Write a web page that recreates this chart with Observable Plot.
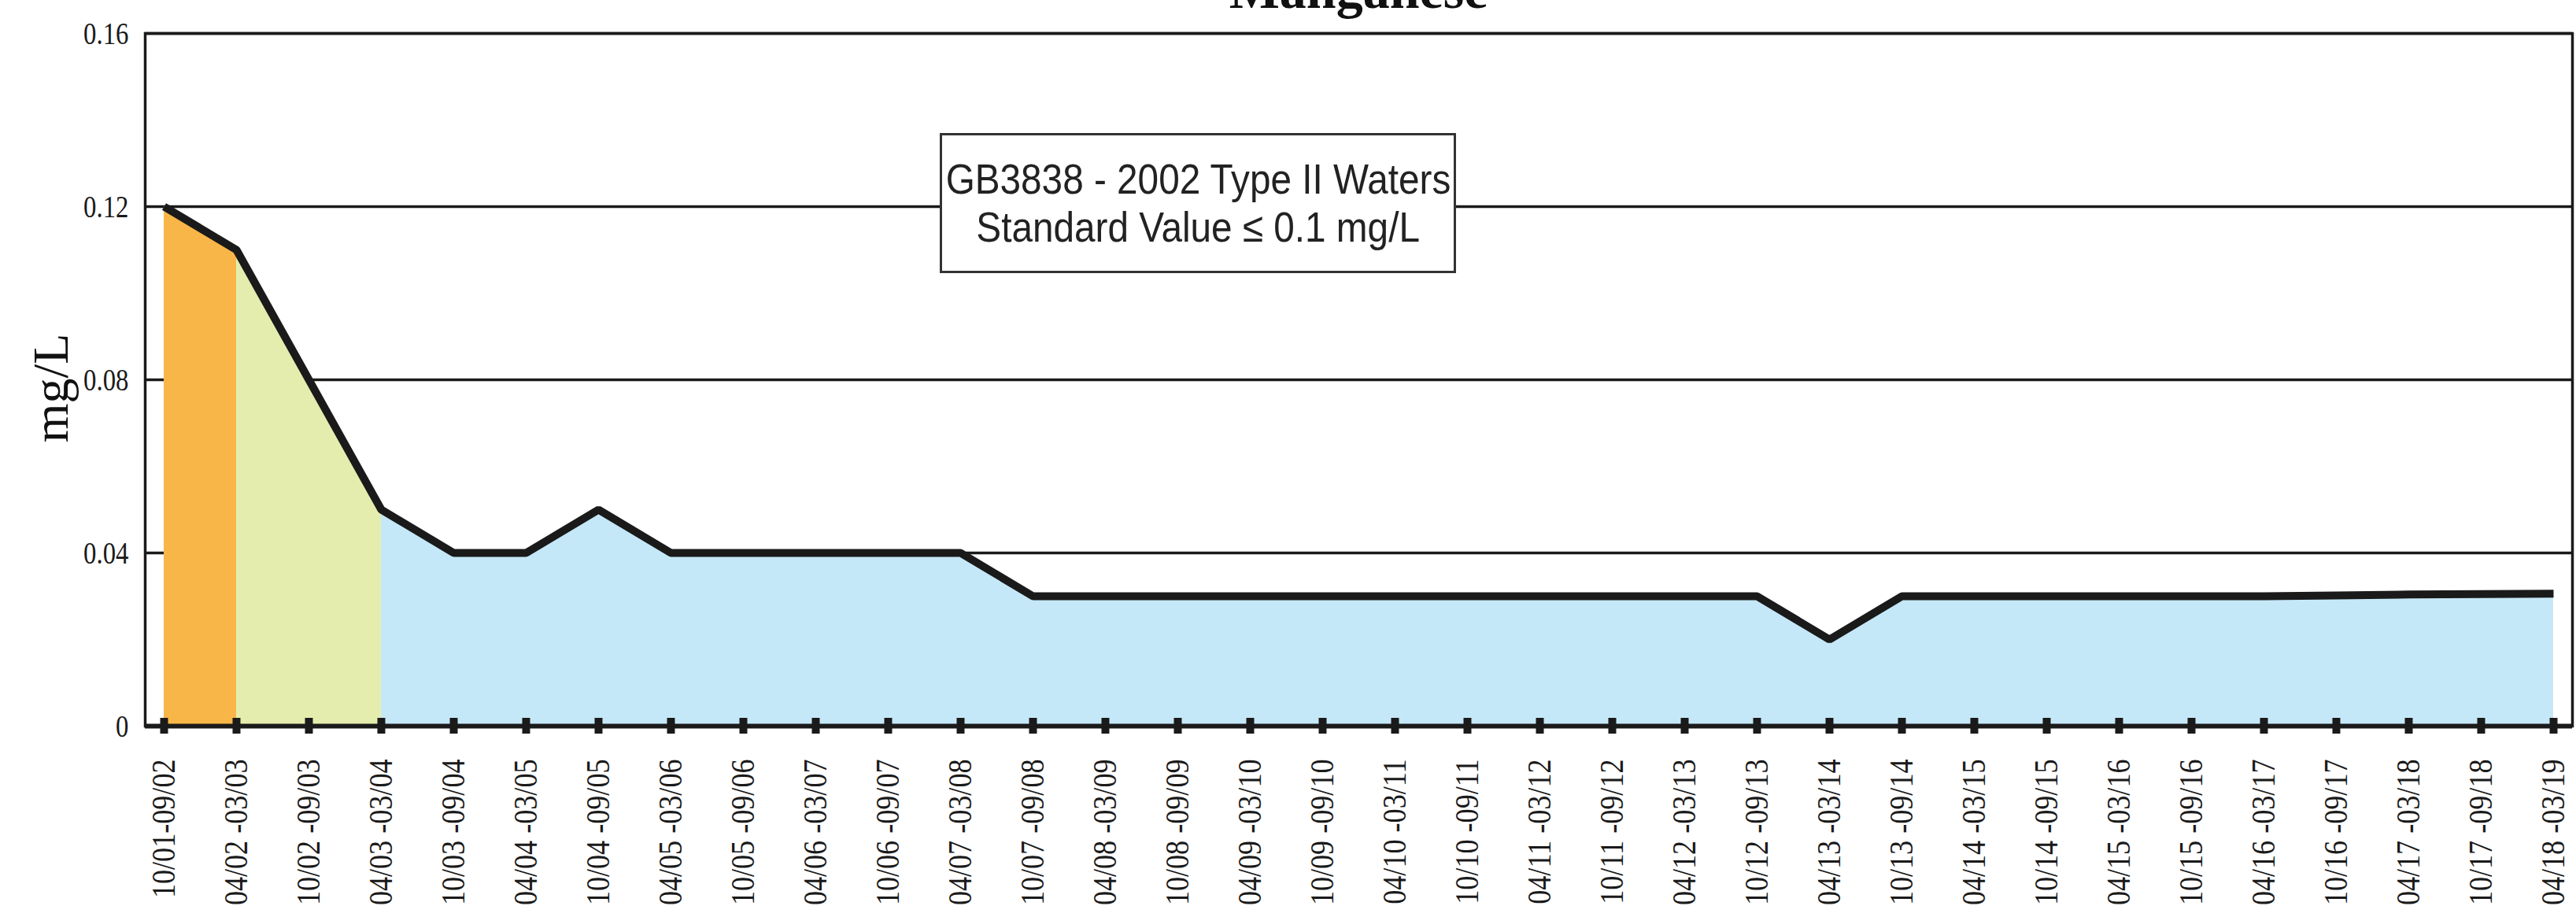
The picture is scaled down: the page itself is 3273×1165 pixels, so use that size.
<!DOCTYPE html>
<html>
<head>
<meta charset="utf-8">
<script src="https://cdn.jsdelivr.net/npm/d3@7"></script>
<script src="https://cdn.jsdelivr.net/npm/@observablehq/plot@0.6"></script>
<style>
  html, body { margin: 0; padding: 0; background: #fff; overflow: hidden; }
  #wrap { position: relative; width: 3273px; height: 1165px; overflow: hidden; }
  #title { position: absolute; left: 184px; width: 3084px; top: -47px; text-align: center;
           font: bold 68px/68px "Liberation Serif", "Times New Roman", serif; color: #111; }
  #ylabel { position: absolute; left: 65px; top: 493px; transform: translate(-50%, -50%) rotate(-90deg);
            font: 64px/64px "Liberation Serif", "Times New Roman", serif; color: #111; white-space: nowrap; }
  #legend { position: absolute; left: 1194px; top: 169px; width: 656px; height: 178px; box-sizing: border-box;
            border: 3px solid #333; background: #fff; display: flex; flex-direction: column;
            justify-content: center; align-items: center;
            font-family: "Liberation Sans", Arial, sans-serif; font-size: 53px; line-height: 61px; color: #222; }
  #legend span { display: block; transform: scaleX(0.9); white-space: nowrap; }
</style>
</head>
<body>
<div id="wrap">
  <div id="title">Manganese</div>
  <div id="ylabel">mg/L</div>
</div>
<script>
const periods = [
  "10/01-09/02", "04/02 -03/03", "10/02 -09/03", "04/03 -03/04", "10/03 -09/04",
  "04/04 -03/05", "10/04 -09/05", "04/05 -03/06", "10/05 -09/06", "04/06 -03/07",
  "10/06 -09/07", "04/07 -03/08", "10/07 -09/08", "04/08 -03/09", "10/08 -09/09",
  "04/09 -03/10", "10/09 -09/10", "04/10 -03/11", "10/10 -09/11", "04/11 -03/12",
  "10/11 -09/12", "04/12 -03/13", "10/12 -09/13", "04/13 -03/14", "10/13 -09/14",
  "04/14 -03/15", "10/14 -09/15", "04/15 -03/16", "10/15 -09/16", "04/16 -03/17",
  "10/16 -09/17", "04/17 -03/18", "10/17 -09/18", "04/18 -03/19"
];
const manganese = [
  0.12, 0.11, 0.08, 0.05, 0.04,
  0.04, 0.05, 0.04, 0.04, 0.04,
  0.04, 0.04, 0.03, 0.03, 0.03,
  0.03, 0.03, 0.03, 0.03, 0.03,
  0.03, 0.03, 0.03, 0.02, 0.03,
  0.03, 0.03, 0.03, 0.03, 0.03,
  0.0302, 0.0304, 0.0305, 0.0306
];
const zoneStart = [0, 1, 3];
const zoneEnd = [1, 3, 33];
const zoneFill = ["#F9B648", "#E5EDAE", "#C5E8F8"];
const yTicks = [0, 0.04, 0.08, 0.12, 0.16];
const legendLines = ["GB3838 - 2002 Type II Waters", "Standard Value \u2264 0.1 mg/L"];

const rows = periods.map((p, i) => ({period: p, value: manganese[i]}));
const zones = zoneStart.map((s, k) => rows.slice(s, zoneEnd[k] + 1));
const ink = "#1a1a1a";

const chart = Plot.plot({
  width: 3273,
  height: 1165,
  marginLeft: 184,
  marginRight: 5,
  marginTop: 42,
  marginBottom: 243,
  style: {background: "white", color: ink},
  x: {type: "point", domain: periods, padding: 0.18},
  y: {domain: [0, 0.16]},
  marks: [
    Plot.ruleY(yTicks.slice(1), {stroke: ink, strokeWidth: 3.5}),
    ...zones.map((z, k) => Plot.areaY(z, {x: "period", y: "value", fill: zoneFill[k]})),
    Plot.line(rows, {x: "period", y: "value", stroke: ink, strokeWidth: 10, strokeLinejoin: "miter", strokeLinecap: "butt"}),
    Plot.frame({stroke: ink, strokeWidth: 3.5}),
    Plot.ruleY([0], {stroke: ink, strokeWidth: 6}),
    Plot.axisY({ticks: yTicks, tickSize: 0, tickPadding: 21, label: null,
      tickFormat: d => d === 0 ? "0" : d.toFixed(2),
      fontSize: 41, fontFamily: "Liberation Serif, Times New Roman, serif", fill: ink}),
    Plot.axisY({ticks: yTicks, tickSize: -14, strokeWidth: 3, stroke: ink, fill: "none", label: null}),
    Plot.axisX({tickSize: 20, dy: -10, strokeWidth: 10, stroke: ink, fill: "none", label: null}),
    Plot.axisX({tickSize: 0, tickPadding: 42, tickRotate: -90, label: null,
      fontSize: 43, fontFamily: "Liberation Serif, Times New Roman, serif", fill: ink})
  ]
});

const wrap = document.getElementById("wrap");
wrap.insertBefore(chart, wrap.firstChild);

const legend = document.createElement("div");
legend.id = "legend";
legendLines.forEach(t => { const s = document.createElement("span"); s.textContent = t; legend.appendChild(s); });
wrap.appendChild(legend);

// condensed type, as in the reference
function condense(sel, f) {
  d3.select(chart).selectAll(sel).each(function() {
    const len = this.getComputedTextLength();
    if (len > 0) { this.setAttribute("textLength", len * f); this.setAttribute("lengthAdjust", "spacingAndGlyphs"); }
  });
}
condense('g[aria-label="x-axis tick label"] text', 0.84);
condense('g[aria-label="y-axis tick label"] text', 0.8);
</script>
</body>
</html>
